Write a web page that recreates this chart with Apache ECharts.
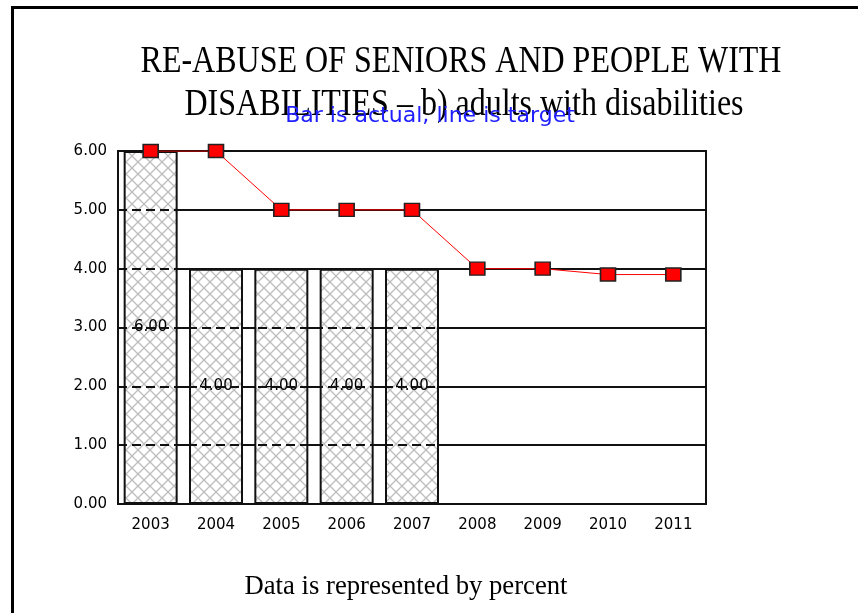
<!DOCTYPE html>
<html>
<head>
<meta charset="utf-8">
<script src="https://cdn.jsdelivr.net/npm/echarts@6/dist/echarts.min.js"></script>
<style>
  html, body { margin: 0; padding: 0; background: #fff; }
  #main { width: 858px; height: 613px; }
</style>
</head>
<body>
<div id="main"></div>
<script>
var years = ['2003', '2004', '2005', '2006', '2007', '2008', '2009', '2010', '2011'];
var actual = [6, 4, 4, 4, 4, null, null, null, null];
var target = [6, 6, 5, 5, 5, 4, 4, 3.9, 3.9];
var yTicks = [1, 2, 3, 4, 5];

// grey cross hatch used to fill the bars
function hatch() {
    var c = document.createElement('canvas');
    c.width = 12;
    c.height = 12;
    var ctx = c.getContext('2d');
    ctx.fillStyle = '#fff';
    ctx.fillRect(0, 0, 12, 12);
    ctx.strokeStyle = '#bdbdbd';
    ctx.lineWidth = 1.3;
    ctx.beginPath();
    ctx.moveTo(0, 0); ctx.lineTo(12, 12);
    ctx.moveTo(12, 0); ctx.lineTo(0, 12);
    ctx.stroke();
    return c;
}

var myChart = echarts.init(document.getElementById('main'));

option = {
    backgroundColor: '#fff',
    animation: false,
    graphic: [
        // slide frame
        { type: 'rect', shape: { x: 11, y: 6, width: 3, height: 607 }, style: { fill: '#000' } },
        { type: 'rect', shape: { x: 11, y: 6, width: 847, height: 3 }, style: { fill: '#000' } },
        {
            type: 'text', x: 461, y: 62, scaleY: 1.2, z: 10,
            style: {
                text: 'RE-ABUSE OF SENIORS AND PEOPLE WITH',
                font: '32px "Liberation Serif"', fill: '#000',
                textAlign: 'center', textVerticalAlign: 'middle'
            }
        },
        {
            type: 'text', x: 464, y: 105, scaleY: 1.2, z: 10,
            style: {
                text: 'DISABILITIES \u2013 b) adults with disabilities',
                font: '32px "Liberation Serif"', fill: '#000',
                textAlign: 'center', textVerticalAlign: 'middle'
            }
        },
        {
            type: 'text', x: 430, y: 117, scaleX: 1.05, z: 11,
            style: {
                text: 'Bar is actual, line is target',
                font: '21px "DejaVu Sans"', fill: '#2020ff',
                textAlign: 'center', textVerticalAlign: 'middle'
            }
        },
        {
            type: 'text', x: 406, y: 587,
            style: {
                text: 'Data is represented by percent',
                font: '26.7px "Liberation Serif"', fill: '#000',
                textAlign: 'center', textVerticalAlign: 'middle'
            }
        }
    ],
    grid: {
        left: 118,
        right: 152,
        top: 151,
        bottom: 109,
        show: true,
        borderColor: '#111',
        borderWidth: 2,
        backgroundColor: 'transparent'
    },
    xAxis: {
        type: 'category',
        data: years,
        axisLine: { lineStyle: { color: '#111', width: 2 } },
        axisTick: { show: false },
        axisLabel: {
            color: '#000',
            fontFamily: 'DejaVu Sans',
            fontSize: 15,
            margin: 14
        }
    },
    yAxis: {
        type: 'value',
        min: 0,
        max: 6,
        interval: 1,
        axisLine: { show: true, lineStyle: { color: '#111', width: 2 } },
        axisTick: { show: false },
        axisLabel: {
            color: '#000',
            fontFamily: 'DejaVu Sans',
            fontSize: 15,
            margin: 11,
            formatter: function (v) { return v.toFixed(2); }
        },
        splitLine: { lineStyle: { color: '#111', width: 2 } }
    },
    series: [{
        name: 'actual',
        type: 'bar',
        data: actual,
        barWidth: 54,
        itemStyle: {
            color: { image: hatch(), repeat: 'repeat' },
            borderColor: '#111',
            borderWidth: 2
        },
        label: {
            show: true,
            position: 'inside',
            color: '#000',
            fontFamily: 'DejaVu Sans',
            fontSize: 15,
            formatter: function (p) { return p.value.toFixed(2); }
        },
        // gridlines look dashed where they cross the bars
        markLine: {
            silent: true,
            symbol: 'none',
            label: { show: false },
            lineStyle: { color: '#111', width: 2, type: [9, 5] },
            data: yTicks.map(function (v) { return { yAxis: v }; })
        }
    }, {
        name: 'target',
        type: 'line',
        data: target,
        z: 5,
        symbol: 'rect',
        symbolSize: [15, 13],
        lineStyle: { color: '#ff0000', width: 1 },
        itemStyle: { color: '#ff0000', borderColor: '#222', borderWidth: 1.5 }
    }]
};

myChart.setOption(option);
</script>
</body>
</html>
